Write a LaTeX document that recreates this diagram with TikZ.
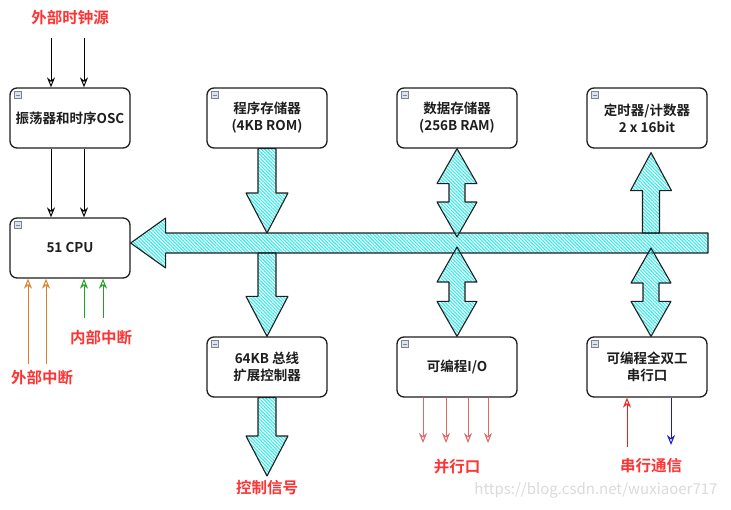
\documentclass[tikz,border=0pt]{standalone}
\usepackage{fontspec}
\setmainfont{Noto Sans CJK SC}[BoldFont={Noto Sans CJK SC Bold}]
\usetikzlibrary{arrows.meta,calc,patterns.meta}
\definecolor{chipInk}{HTML}{1E1E1E}
\definecolor{chipCyan}{HTML}{33EAEA}
\definecolor{chipRed}{HTML}{FF3333}
\definecolor{chipOrange}{HTML}{D9822B}
\definecolor{chipGreen}{HTML}{22A022}
\definecolor{chipPink}{HTML}{E06868}
\definecolor{chipSerial}{HTML}{FF1A1A}
\definecolor{chipBlue}{HTML}{1A1AC8}
\definecolor{chipGray}{HTML}{7A8494}
\definecolor{chipIconFill}{HTML}{DCE3EC}
\definecolor{chipMark}{HTML}{DADADA}
\tikzset{
  every picture/.style={font=\bfseries\fontsize{13.5}{17}\selectfont, text=chipInk},
  chip box/.style={draw=chipInk, line width=1.3pt, rounded corners=7pt,
    fill=white, align=center, minimum width=120pt, minimum height=60pt, inner sep=1pt},
  chip label/.style={text=chipRed, font=\bfseries\fontsize{15.5}{18}\selectfont},
  chip bus/.style={draw=chipInk, line width=1.1pt, line join=round,
    pattern={Lines[angle=-45,distance=2.4pt,line width=1.1pt]}, pattern color=chipCyan},
  chip wire/.style={line width=1pt, -{Stealth[open,length=10pt,width=8pt]}},
  chip icon/.style={draw=chipGray, fill=chipIconFill, line width=0.5pt}
}
% block arrows: shaft start, tip
\newcommand{\blockDown}[2]{%
  \draw[chip bus] let \p1=(#1), \p2=(#2) in
    (\x1-9pt,\y1) -- (\x1-9pt,\y2+40pt) -- (\x1-21pt,\y2+40pt) -- (\x1,\y2)
    -- (\x1+21pt,\y2+40pt) -- (\x1+9pt,\y2+40pt) -- (\x1+9pt,\y1) -- cycle;}
\newcommand{\blockUp}[2]{%
  \draw[chip bus] let \p1=(#1), \p2=(#2) in
    (\x1-8.5pt,\y1) -- (\x1-8.5pt,\y2-38pt) -- (\x1-20.5pt,\y2-38pt) -- (\x1,\y2)
    -- (\x1+20.5pt,\y2-38pt) -- (\x1+8.5pt,\y2-38pt) -- (\x1+8.5pt,\y1) -- cycle;}
% double block arrow: upper tip, lower tip
\newcommand{\blockBoth}[2]{%
  \draw[chip bus] let \p1=(#1), \p2=(#2) in
    (\x1,\y1) -- (\x1+20pt,\y1-35pt) -- (\x1+8pt,\y1-35pt) -- (\x1+8pt,\y2+35pt)
    -- (\x1+20pt,\y2+35pt) -- (\x1,\y2) -- (\x1-20pt,\y2+35pt) -- (\x1-8pt,\y2+35pt)
    -- (\x1-8pt,\y1-35pt) -- (\x1-20pt,\y1-35pt) -- cycle;}

\begin{document}
\begin{tikzpicture}[x=1pt,y=-1pt]
  \useasboundingbox (0,0) rectangle (731,509);
  % units and boxes
  \node[chip box] (osc) at (70,118) {振荡器和时序OSC};
  \node[chip box] (cpu) at (70,248) {51 CPU};
  \node[chip box] (rom) at (267,118) {程序存储器\\(4KB ROM)};
  \node[chip box] (ram) at (457,118) {数据存储器\\(256B RAM)};
  \node[chip box] (tmr) at (647,118) {定时器/计数器\\2 x 16bit};
  \node[chip box] (xbus) at (267,367) {64KB 总线\\扩展控制器};
  \node[chip box] (pio) at (457,367) {可编程I/O};
  \node[chip box] (uart) at (647,367) {可编程全双工\\串行口};
  \foreach \b in {osc,cpu,rom,ram,tmr,xbus,pio,uart} {
    \draw[chip icon] ($(\b.north west)+(5,4)$) rectangle +(7,7);
    \draw[chipGray,line width=0.6pt] ($(\b.north west)+(6.5,7.5)$) -- +(4,0);
  }
  % internal bus
  \coordinate (busR) at (708,243);
  \coordinate (busL) at (cpu.east |- busR);
  \coordinate (busT) at (0,233);
  \coordinate (busB) at (0,253);
  \draw[chip bus] let \p1=(busR), \p2=(busL) in
    (\x1,\y1+10pt) -- (\x2+35pt,\y1+10pt) -- (\x2+35pt,\y1+25pt) -- (\x2,\y2)
    -- (\x2+35pt,\y1-25pt) -- (\x2+35pt,\y1-10pt) -- (\x1,\y1-10pt) -- cycle;
  \blockDown{rom.south}{rom.south |- busT}
  \blockDown{xbus.north |- busB}{xbus.north}
  \coordinate (ctrlTip) at (267,476);
  \blockDown{xbus.south}{ctrlTip}
  \blockBoth{ram.south}{$(ram.south |- busT)+(0,4)$}
  \blockBoth{$(pio.north |- busB)+(0,-6)$}{pio.north}
  \blockUp{$(tmr.south |- busT)+(4,0)$}{$(tmr.south)+(4,4)$}
  \blockBoth{$(uart.north |- busB)+(4,-5)$}{$(uart.north)+(4,0)$}
  % clock
  \coordinate (clkA) at (51,38);
  \coordinate (clkB) at (84,38);
  \foreach \c in {clkA,clkB} {
    \draw[chip wire] (\c) -- (\c |- osc.north);
    \draw[chip wire] (\c |- osc.south) -- (\c |- cpu.north);
  }
  % interrupts
  \coordinate (extA) at (28,364);
  \coordinate (extB) at (46,364);
  \coordinate (intA) at (84,318);
  \coordinate (intB) at (103,318);
  \foreach \c in {extA,extB} \draw[chip wire,chipOrange] (\c) -- (\c |- cpu.south);
  \foreach \c in {intA,intB} \draw[chip wire,chipGreen] (\c) -- (\c |- cpu.south);
  % parallel port
  \foreach \x [count=\i] in {423,446,468,488} {
    \coordinate (pio\i) at (\x,443);
    \draw[chip wire,chipPink] (pio.south -| pio\i) -- (pio\i);
  }
  % serial port
  \coordinate (rxd) at (627,447);
  \coordinate (txd) at (671,445);
  \draw[chip wire,chipSerial] (rxd) -- (uart.south -| rxd);
  \draw[chip wire,chipBlue] (uart.south -| txd) -- (txd);
  % labels
  \node[chip label] (clkLbl) at (70,18) {外部时钟源};
  \node[chip label] (intLbl) at (101,338) {内部中断};
  \node[chip label] (extLbl) at (42,378) {外部中断};
  \node[chip label] (ctrlLbl) at (267,488) {控制信号};
  \node[chip label] (pioLbl) at (457,467) {并行口};
  \node[chip label] (uartLbl) at (651,466) {串行通信};
  \node[text=chipMark, font=\mdseries\fontsize{15}{17}\selectfont] (mark) at (596,490) {https://blog.csdn.net/wuxiaoer717};
\end{tikzpicture}
\end{document}
